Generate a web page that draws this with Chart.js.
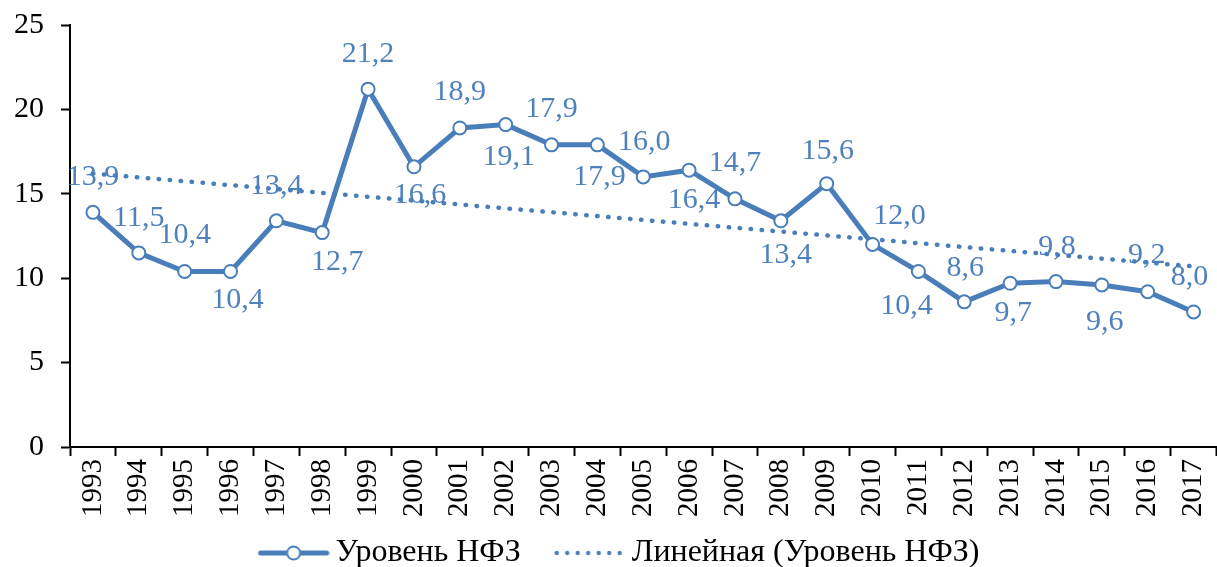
<!DOCTYPE html>
<html>
<head>
<meta charset="utf-8">
<script src="https://cdn.jsdelivr.net/npm/chart.js@4/dist/chart.umd.min.js"></script>
<style>
  html, body { margin: 0; padding: 0; background: #fff; overflow: hidden; }
  #wrap { width: 1217px; height: 567px; overflow: hidden; }
</style>
</head>
<body>
<!-- canvas a little wider than the window: Chart.js keeps ~9px free on the right,
     the original plot runs to the very edge -->
<div id="wrap"><canvas id="chart" width="1225" height="567"></canvas></div>
<script>
// --- data ---
const years = ['1993', '1994', '1995', '1996', '1997', '1998', '1999', '2000', '2001',
    '2002', '2003', '2004', '2005', '2006', '2007', '2008', '2009', '2010', '2011',
    '2012', '2013', '2014', '2015', '2016', '2017'];
const nfzLevel = [13.9, 11.5, 10.4, 10.4, 13.4, 12.7, 21.2, 16.6, 18.9, 19.1, 17.9, 17.9,
    16.0, 16.4, 14.7, 13.4, 15.6, 12.0, 10.4, 8.6, 9.7, 9.8, 9.6, 9.2, 8.0];
// linear trend: only its two ends
const trendStart = 16.2;
const trendEnd = 10.7;
const yTicks = [0, 5, 10, 15, 20, 25];

const seriesName = 'Уровень НФЗ';
const trendName = 'Линейная (Уровень НФЗ)';

// label placement relative to each point, px [dx, dy]
const labelShift = [
    [0, -35], [0, -35], [0, -36], [7, 29], [0, -35], [15, 30], [0, -35], [6, 28],
    [0, -36], [3, 33], [0, -36], [2, 32], [1, -35], [5, 30], [0, -36], [5, 34],
    [1, -33], [27, -28], [-12, 35], [1, -34], [3, 30], [1, -34], [3, 37], [-1, -37],
    [-4, -35]
];

const BLUE = '#4a7ebb';
const LABEL_BLUE = '#4f81bd';
const FONT = 'Liberation Serif';

const trendData = years.map((_, i) => i === 0 ? trendStart : (i === years.length - 1 ? trendEnd : null));

// legend icons; blank strip on the left widens the gap between the two entries
function makeLineIcon() {
    const c = document.createElement('canvas');
    c.width = 95; c.height = 18;
    const g = c.getContext('2d');
    g.strokeStyle = BLUE; g.lineWidth = 5; g.lineCap = 'round';
    g.beginPath(); g.moveTo(26, 9); g.lineTo(92, 9); g.stroke();
    g.beginPath(); g.arc(59, 9, 6.5, 0, Math.PI * 2);
    g.fillStyle = '#fff'; g.fill();
    g.lineWidth = 2; g.stroke();
    return c;
}
function makeDotIcon() {
    const c = document.createElement('canvas');
    c.width = 95; c.height = 18;
    const g = c.getContext('2d');
    g.fillStyle = BLUE;
    for (let x = 26; x < 92; x += 10.5) {
        g.beginPath(); g.arc(x, 9, 2.2, 0, Math.PI * 2); g.fill();
    }
    return c;
}
const legendIcons = [makeLineIcon(), makeDotIcon()];

// value labels, drawn under the lines (the trend dots run over them)
const valueLabels = {
    id: 'valueLabels',
    beforeDatasetsDraw(chart) {
        const ctx = chart.ctx;
        const meta = chart.getDatasetMeta(0);
        ctx.save();
        ctx.font = '30px "' + FONT + '"';
        ctx.fillStyle = LABEL_BLUE;
        ctx.textAlign = 'center';
        ctx.textBaseline = 'middle';
        meta.data.forEach((pt, i) => {
            const txt = nfzLevel[i].toFixed(1).replace('.', ',');
            ctx.fillText(txt, pt.x + labelShift[i][0], pt.y + labelShift[i][1]);
        });
        ctx.restore();
    }
};

function noPad(scale) {
    scale.paddingLeft = 0;
    scale.paddingRight = 0;
    scale.paddingTop = 0;
    scale.paddingBottom = 0;
}

new Chart(document.getElementById('chart'), {
    type: 'line',
    data: {
        labels: years,
        datasets: [
            {
                label: seriesName,
                data: nfzLevel,
                borderColor: BLUE,
                borderWidth: 5,
                pointRadius: 6.5,
                pointBackgroundColor: '#fff',
                pointBorderColor: BLUE,
                pointBorderWidth: 2,
                tension: 0,
                fill: false,
            },
            {
                label: trendName,
                data: trendData,
                spanGaps: true,
                borderColor: BLUE,
                borderWidth: 4.5,
                borderDash: [0.5, 10.5],
                borderCapStyle: 'round',
                pointRadius: 0,
                tension: 0,
                fill: false,
            },
        ],
    },
    plugins: [valueLabels],
    options: {
        responsive: false,
        animation: false,
        layout: { padding: { top: 25, right: 1, bottom: -12, left: 0 } },
        plugins: {
            tooltip: { enabled: false },
            legend: {
                position: 'bottom',
                labels: {
                    color: '#000',
                    font: { family: FONT, size: 32 },
                    usePointStyle: true,
                    pointStyleWidth: 75,
                    padding: 20,
                    generateLabels(chart) {
                        const items = Chart.defaults.plugins.legend.labels.generateLabels(chart);
                        items.forEach((it, i) => { it.pointStyle = legendIcons[i]; });
                        return items;
                    },
                },
            },
        },
        scales: {
            x: {
                offset: true,
                grid: {
                    offset: true,
                    drawOnChartArea: false,
                    drawTicks: true,
                    tickLength: 9,
                    tickWidth: 2,
                    color: '#000',
                },
                border: { display: true, color: '#000', width: 2 },
                ticks: {
                    color: '#000',
                    font: { family: FONT, size: 29 },
                    minRotation: 90,
                    maxRotation: 90,
                    autoSkip: false,
                    padding: 3,
                },
                afterFit(scale) {
                    scale.height = 70;
                    noPad(scale);
                },
            },
            y: {
                min: 0,
                max: 25,
                afterBuildTicks(scale) { scale.ticks = yTicks.map(v => ({ value: v })); },
                grid: {
                    drawOnChartArea: false,
                    drawTicks: true,
                    tickLength: 9,
                    tickWidth: 2,
                    color: '#000',
                },
                border: { display: true, color: '#000', width: 2 },
                ticks: {
                    color: '#000',
                    font: { family: FONT, size: 30 },
                    padding: 17,
                },
                afterFit(scale) {
                    scale.width = 70;
                    noPad(scale);
                },
            },
        },
    },
});
</script>
</body>
</html>
